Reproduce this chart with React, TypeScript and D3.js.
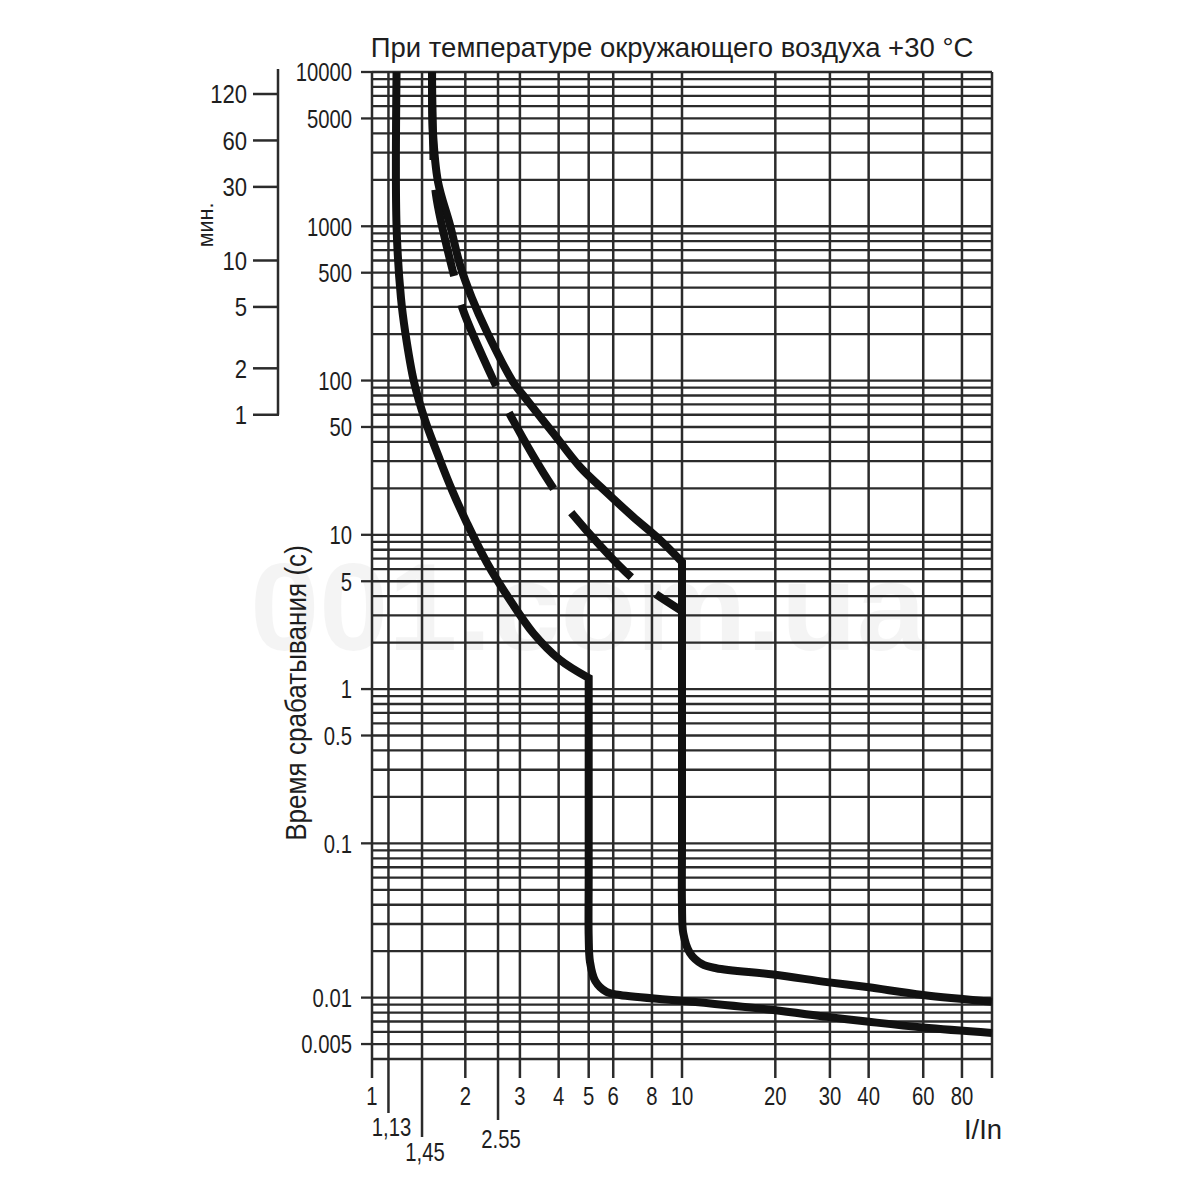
import * as d3 from 'd3';
import type { ReactNode } from 'react';

// grid positions along I/In (vertical lines)
const xGridValues = [1, 1.13, 1.45, 2, 2.55, 3, 4, 5, 6, 8, 10, 20, 30, 40, 60, 80, 100];
const xTickLabels = [1, 2, 3, 4, 5, 6, 8, 10, 20, 30, 40, 60, 80];
const xExtraValues = [1.13, 1.45, 2.55];
const xExtraLabels = ['1,13', '1,45', '2.55'];

// time axis, seconds
const yTickLabels = [10000, 5000, 1000, 500, 100, 50, 10, 5, 1, 0.5, 0.1, 0.01, 0.005];
const minuteTicks = [120, 60, 30, 10, 5, 2, 1];

// [I/In, t (s)]
const lowerCurveTop: [number, number][] = [
  [1.2, 10000], [1.2, 1000], [1.24, 343], [1.28, 206], [1.366, 98], [1.482, 55.5],
  [1.657, 30.5], [1.812, 19.5], [2.025, 11.9], [2.35, 6.57], [2.787, 3.78],
  [3.31, 2.31], [4.04, 1.545], [5, 1.18],
];
const lowerCurveBottom: [number, number][] = [
  [5, 1.18], [5, 0.3], [5, 0.06], [5, 0.025], [5.05, 0.017], [5.25, 0.0128],
  [5.7, 0.0109], [6.3, 0.0104], [10.8, 0.0094], [19.7, 0.0083], [29.4, 0.0075],
  [39.5, 0.007], [59.9, 0.0064], [100, 0.0059],
];
const upperCurveTop: [number, number][] = [
  [1.562, 10000], [1.573, 4083], [1.633, 1936], [1.785, 1019], [1.923, 561],
  [2.1, 343], [2.35, 206], [2.85, 98], [3.16, 74.8], [3.84, 45.7], [4.69, 27.5],
  [5.73, 18.7], [6.95, 13.1], [8.49, 9.27], [10, 6.67],
];
const upperCurveBottom: [number, number][] = [
  [10, 6.67], [10, 1], [10, 0.1], [10, 0.04], [10.1, 0.026], [10.6, 0.0195],
  [11.6, 0.0165], [12.9, 0.0155], [19.7, 0.0141], [29.4, 0.0126], [39.5, 0.0117],
  [59.9, 0.0104], [100, 0.0094],
];
const dashedCurve: [number, number][] = [
  [1.562, 10000], [1.573, 3627], [1.609, 1595], [1.853, 449], [1.966, 287],
  [2.53, 89.6], [2.79, 59.9], [3.84, 20.1], [4.45, 13.5], [6.9, 5.26], [8.3, 4.08],
  [10, 3.2],
];

const W = 1200;
const H = 1200;
const FONT = "'Liberation Sans', Arial, sans-serif";
const GRID = '#2b2b2b';
const INK = '#1e1e1e';
const SX = 0.78; // the reference uses a condensed face

// condensed text: Liberation Sans squeezed horizontally
function NText(props: {
  x: number;
  y: number;
  size: number;
  anchor?: 'start' | 'middle' | 'end';
  rotate?: number;
  sx?: number;
  dy?: string;
  children: ReactNode;
}) {
  const { x, y, size, anchor = 'middle', rotate = 0, sx = SX, dy, children } = props;
  return (
    <text
      transform={`translate(${x},${y}) rotate(${rotate}) scale(${sx},1)`}
      textAnchor={anchor}
      fontSize={size}
      dy={dy}
      fill={INK}
    >
      {children}
    </text>
  );
}

export default function App() {
  const x = d3.scaleLog().domain([1, 100]).range([372, 992]);
  const y = d3.scaleLog().domain([0.004, 10000]).range([1059, 72]);

  const left = x(1);
  const right = x(100);
  const top = y(10000);
  const bottom = y(0.004);

  // horizontal grid: 1..9 x 10^k
  const yGridValues: number[] = [];
  for (let k = -3; k <= 4; k++) {
    for (let m = 1; m <= 9; m++) {
      const v = m * Math.pow(10, k);
      if (v >= 0.004 - 1e-9 && v <= 10000 + 1e-9) yGridValues.push(v);
    }
  }

  const line = d3
    .line<[number, number]>()
    .x((d) => x(d[0]))
    .y((d) => y(d[1]))
    .curve(d3.curveCatmullRom.alpha(0.5));

  const joined = (a: [number, number][], b: [number, number][]) =>
    (line(a) ?? '') + (line(b) ?? '').replace(/^M/, 'L');

  const extraDrop = [54, 78, 61];
  const extraLabelY = [1136, 1161, 1148];

  return (
    <svg
      width={W}
      height={H}
      style={{ position: 'absolute', left: 0, top: 0, background: '#fff' }}
      fontFamily={FONT}
    >
      <rect x={0} y={0} width={W} height={H} fill="#fff" />

      {/* faint watermark */}
      <text
        x={588}
        y={650}
        textAnchor="middle"
        fontFamily="'Liberation Sans', Arial, sans-serif"
        fontWeight="bold"
        fontSize={124}
        fill="#000"
        opacity={0.04}
      >
        001.com.ua
      </text>

      {/* horizontal grid */}
      {yGridValues.map((v) => (
        <line key={`h${v}`} x1={left} x2={right} y1={y(v)} y2={y(v)} stroke={GRID} strokeWidth={2.3} />
      ))}

      {/* vertical grid */}
      {xGridValues.map((v, i) => {
        const ei = xExtraValues.indexOf(v);
        const yEnd = ei >= 0 ? bottom + extraDrop[ei] : bottom + 19;
        return <line key={`v${i}`} x1={x(v)} x2={x(v)} y1={top} y2={yEnd} stroke={GRID} strokeWidth={2.5} />;
      })}

      {/* y ticks + labels */}
      {yTickLabels.map((v) => (
        <g key={`yt${v}`}>
          <line x1={left - 11} x2={left} y1={y(v)} y2={y(v)} stroke={GRID} strokeWidth={2.3} />
          <NText x={left - 20} y={y(v)} dy="0.36em" anchor="end" size={26}>
            {String(v)}
          </NText>
        </g>
      ))}

      {/* x labels */}
      {xTickLabels.map((v) => (
        <NText key={`xt${v}`} x={x(v)} y={1105} size={26}>
          {String(v)}
        </NText>
      ))}
      {xExtraValues.map((v, i) => (
        <NText key={`xe${v}`} x={x(v) + 3} y={extraLabelY[i]} size={26}>
          {xExtraLabels[i]}
        </NText>
      ))}
      <NText x={983} y={1139} size={28} sx={0.98}>
        I/In
      </NText>

      {/* minutes axis */}
      <line x1={278} x2={278} y1={69} y2={y(60)} stroke={GRID} strokeWidth={2.5} />
      {minuteTicks.map((m) => (
        <g key={`mt${m}`}>
          <line x1={253} x2={279} y1={y(m * 60)} y2={y(m * 60)} stroke={GRID} strokeWidth={2.5} />
          <NText x={247} y={y(m * 60)} dy="0.36em" anchor="end" size={26} sx={0.85}>
            {String(m)}
          </NText>
        </g>
      ))}
      <NText x={213} y={225} rotate={-90} size={22} sx={0.98}>
        мин.
      </NText>

      {/* y title */}
      <NText x={306} y={693} rotate={-90} size={29} sx={0.9}>
        Время срабатывания (с)
      </NText>

      {/* title */}
      <NText x={672} y={57} size={28.5} sx={0.965}>
        При температуре окружающего воздуха +30 °C
      </NText>

      {/* curves */}
      <path d={joined(lowerCurveTop, lowerCurveBottom)} fill="none" stroke="#111" strokeWidth={8} strokeLinejoin="miter" />
      <path d={joined(upperCurveTop, upperCurveBottom)} fill="none" stroke="#111" strokeWidth={8} strokeLinejoin="miter" />
      <path d={line(dashedCurve) ?? ''} fill="none" stroke="#111" strokeWidth={8} strokeDasharray="88 30" />
    </svg>
  );
}
